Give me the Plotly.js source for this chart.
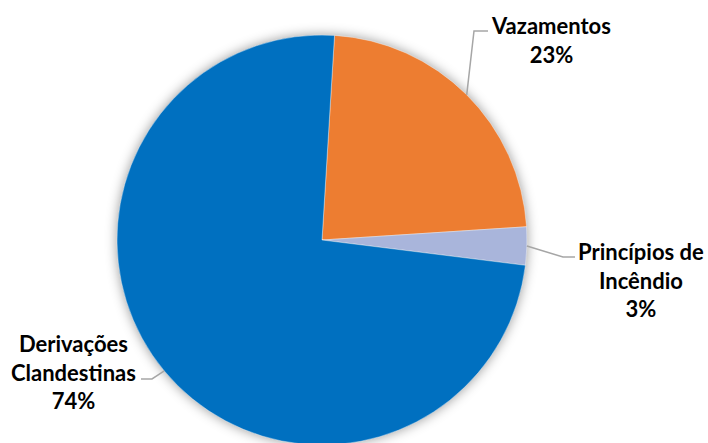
<!DOCTYPE html>
<html>
<head>
<meta charset="utf-8">
<script src="https://cdn.plot.ly/plotly-3.0.1.min.js"></script>
<style>
  html, body { margin: 0; padding: 0; background: #fff; overflow: hidden; }
  #chart { width: 708px; height: 447px; }
  .pielayer .trace { filter: drop-shadow(0 0 6px rgba(0,0,0,0.4)); }
</style>
</head>
<body>
<div id="chart"></div>
<script>
const labels = ['Vazamentos', 'Princípios de<br>Incêndio', 'Derivações<br>Clandestinas'];
const values = [23, 3, 74];
const colors = ['#ED7D31', '#A9B5DB', '#0070C0'];

// label block centers and elbow points (pixels)
const labelPos = [[551, 40], [641, 280], [73, 372]];
const elbows = [[[474, 31], [488, 31]], [[563, 257], [575, 257]], [[152, 379], [141, 379]]];

// plot is a bit taller than the window so the pie runs off the bottom edge
const W = 708, H = 447;
const cx = 322, cy = 240, r = 205;
const rotation = 3.5;

const px = x => x / W;
const py = y => 1 - y / H;

const total = values.reduce((a, b) => a + b, 0);
let cum = 0;
const shapes = [];
const annotations = [];
values.forEach((v, i) => {
  const mid = rotation + (cum + v / 2) / total * 360;
  cum += v;
  const a = mid * Math.PI / 180;
  const sx = cx + r * Math.sin(a);
  const sy = cy - r * Math.cos(a);
  const [e1, e2] = elbows[i];
  shapes.push({
    type: 'path', xref: 'paper', yref: 'paper',
    path: `M${px(sx)},${py(sy)} L${px(e1[0])},${py(e1[1])} L${px(e2[0])},${py(e2[1])}`,
    line: { color: '#A6A6A6', width: 1.5 }
  });
  annotations.push({
    xref: 'paper', yref: 'paper',
    x: px(labelPos[i][0]), y: py(labelPos[i][1]),
    xanchor: 'center', yanchor: 'middle', align: 'center',
    showarrow: false,
    text: labels[i] + '<br>' + Math.round(v / total * 100) + '%',
    font: { family: 'Lato, "Open Sans", sans-serif', size: 22, color: '#000', weight: 700 }
  });
});

const data = [{
  type: 'pie',
  labels: labels,
  values: values,
  sort: false,
  direction: 'clockwise',
  rotation: rotation,
  textinfo: 'none',
  hoverinfo: 'label+percent',
  marker: { colors: colors, line: { color: 'rgba(255,255,255,0.5)', width: 0.75 } },
  domain: { x: [px(cx - r), px(cx + r)], y: [py(cy + r), py(cy - r)] }
}];

const layout = {
  width: W, height: H,
  margin: { l: 0, r: 0, t: 0, b: 0 },
  showlegend: false,
  paper_bgcolor: '#fff',
  shapes: shapes,
  annotations: annotations
};

Plotly.newPlot('chart', data, layout, { displayModeBar: false, staticPlot: true });
</script>
</body>
</html>
